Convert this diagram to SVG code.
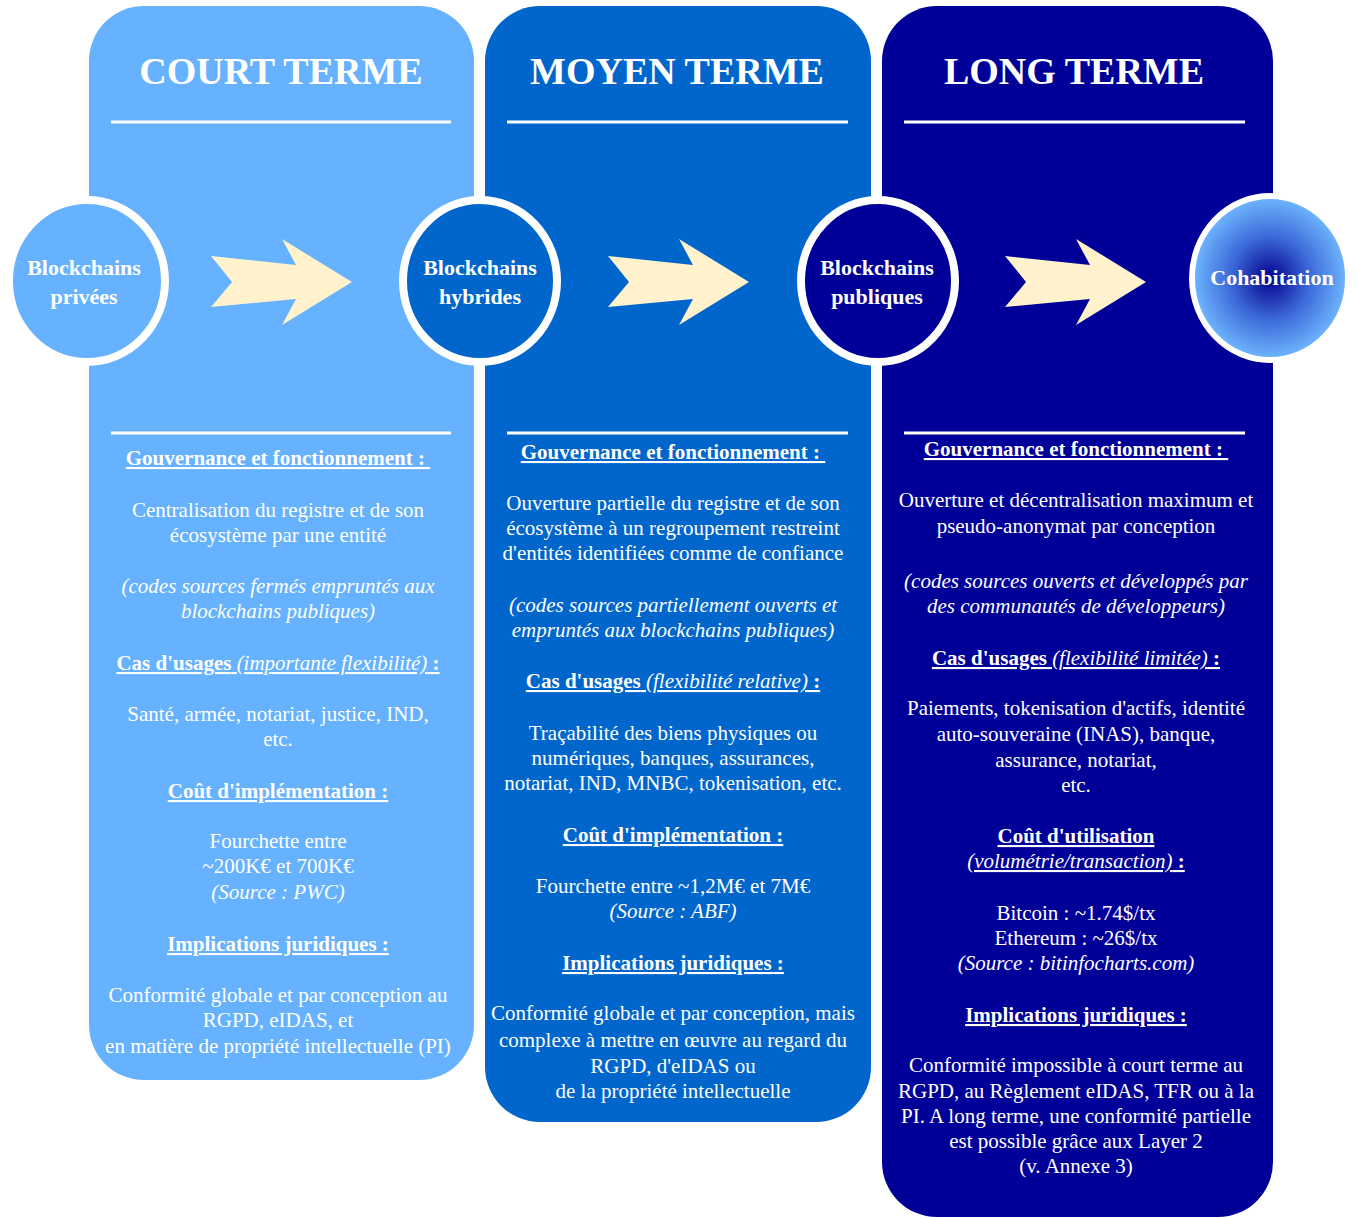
<svg xmlns="http://www.w3.org/2000/svg" width="1358" height="1218" viewBox="0 0 1358 1218">
<defs>
<radialGradient id="cohab" cx="50%" cy="50%" r="50%">
<stop offset="0" stop-color="#000099"/>
<stop offset="0.2" stop-color="#1a2aa8"/>
<stop offset="0.5" stop-color="#3b68d8"/>
<stop offset="1" stop-color="#70b8ff"/>
</radialGradient>
<polygon id="arrowShape" points="211,256 296,265 282,239 352,282 282,325 296,299 211,307 232,282"/>
</defs>
<style>
.t{font-family:"Liberation Serif","Times New Roman",serif;fill:#fff;text-anchor:middle}
.h{font-size:38px;font-weight:bold}
.c{font-size:22px;font-weight:bold}
.b{font-size:21px}
.hd{font-weight:bold;text-decoration:underline}
.u{text-decoration:underline}
.i{font-style:italic}
.bo{font-weight:bold}
.rule{stroke:#fff;stroke-width:3}
.ring{stroke:#fff;stroke-width:8}
.arrow{fill:#FFF2CC}
</style>
<rect width="1358" height="1218" fill="#fff"/>

<g id="col-court">
<rect x="89" y="6" width="385" height="1074" rx="55" ry="55" fill="#66B2FF"/>
<text class="t h" x="281" y="84">COURT TERME</text>
<line class="rule" x1="111" y1="122" x2="451" y2="122"/>
<line class="rule" x1="111" y1="433" x2="451" y2="433"/>
<g class="t b">
<text class="hd" x="278" y="465" xml:space="preserve">Gouvernance et fonctionnement : </text>
<text x="278" y="517">Centralisation du registre et de son</text>
<text x="278" y="542">écosystème par une entité</text>
<text class="i" x="278" y="593">(codes sources fermés empruntés aux</text>
<text class="i" x="278" y="618">blockchains publiques)</text>
<text class="u" x="278" y="670" xml:space="preserve"><tspan class="bo">Cas d'usages</tspan><tspan class="i"> (importante flexibilité)</tspan><tspan class="bo"> :</tspan></text>
<text x="278" y="721">Santé, armée, notariat, justice, IND,</text>
<text x="278" y="746">etc.</text>
<text class="hd" x="278" y="798">Coût d'implémentation :</text>
<text x="278" y="848">Fourchette entre</text>
<text x="278" y="873">~200K€ et 700K€</text>
<text class="i" x="278" y="899">(Source : PWC)</text>
<text class="hd" x="278" y="951">Implications juridiques :</text>
<text x="278" y="1002">Conformité globale et par conception au</text>
<text x="278" y="1027">RGPD, eIDAS, et</text>
<text x="278" y="1053">en matière de propriété intellectuelle (PI)</text>
</g>
</g>

<g id="col-moyen">
<rect x="485" y="6" width="386" height="1116" rx="55" ry="55" fill="#0066CC"/>
<text class="t h" x="677" y="84">MOYEN TERME</text>
<line class="rule" x1="507" y1="122" x2="848" y2="122"/>
<line class="rule" x1="507" y1="433" x2="848" y2="433"/>
<g class="t b">
<text class="hd" x="673" y="459" xml:space="preserve">Gouvernance et fonctionnement : </text>
<text x="673" y="510">Ouverture partielle du registre et de son</text>
<text x="673" y="535">écosystème à un regroupement restreint</text>
<text x="673" y="560">d'entités identifiées comme de confiance</text>
<text class="i" x="673" y="612">(codes sources partiellement ouverts et</text>
<text class="i" x="673" y="637">empruntés aux blockchains publiques)</text>
<text class="u" x="673" y="688" xml:space="preserve"><tspan class="bo">Cas d'usages</tspan><tspan class="i"> (flexibilité relative)</tspan><tspan class="bo"> :</tspan></text>
<text x="673" y="740">Traçabilité des biens physiques ou</text>
<text x="673" y="765">numériques, banques, assurances,</text>
<text x="673" y="790">notariat, IND, MNBC, tokenisation, etc.</text>
<text class="hd" x="673" y="842">Coût d'implémentation :</text>
<text x="673" y="893">Fourchette entre ~1,2M€ et 7M€</text>
<text class="i" x="673" y="918">(Source : ABF)</text>
<text class="hd" x="673" y="970">Implications juridiques :</text>
<text x="673" y="1020">Conformité globale et par conception, mais</text>
<text x="673" y="1047">complexe à mettre en œuvre au regard du</text>
<text x="673" y="1073">RGPD, d'eIDAS ou</text>
<text x="673" y="1098">de la propriété intellectuelle</text>
</g>
</g>

<g id="col-long">
<rect x="882" y="6" width="391" height="1211" rx="55" ry="55" fill="#000099"/>
<text class="t h" x="1074" y="84">LONG TERME</text>
<line class="rule" x1="904" y1="122" x2="1245" y2="122"/>
<line class="rule" x1="904" y1="433" x2="1245" y2="433"/>
<g class="t b">
<text class="hd" x="1076" y="456" xml:space="preserve">Gouvernance et fonctionnement : </text>
<text x="1076" y="507">Ouverture et décentralisation maximum et</text>
<text x="1076" y="533">pseudo-anonymat par conception</text>
<text class="i" x="1076" y="588">(codes sources ouverts et développés par</text>
<text class="i" x="1076" y="613">des communautés de développeurs)</text>
<text class="u" x="1076" y="665" xml:space="preserve"><tspan class="bo">Cas d'usages</tspan><tspan class="i"> (flexibilité limitée)</tspan><tspan class="bo"> :</tspan></text>
<text x="1076" y="715">Paiements, tokenisation d'actifs, identité</text>
<text x="1076" y="741">auto-souveraine (INAS), banque,</text>
<text x="1076" y="767">assurance, notariat,</text>
<text x="1076" y="792">etc.</text>
<text class="hd" x="1076" y="843">Coût d'utilisation</text>
<text class="u" x="1076" y="868" xml:space="preserve"><tspan class="i">(volumétrie/transaction)</tspan><tspan class="bo"> :</tspan></text>
<text x="1076" y="920">Bitcoin : ~1.74$/tx</text>
<text x="1076" y="945">Ethereum : ~26$/tx</text>
<text class="i" x="1076" y="970">(Source : bitinfocharts.com)</text>
<text class="hd" x="1076" y="1022">Implications juridiques :</text>
<text x="1076" y="1072">Conformité impossible à court terme au</text>
<text x="1076" y="1098">RGPD, au Règlement eIDAS, TFR ou à la</text>
<text x="1076" y="1123">PI. A long terme, une conformité partielle</text>
<text x="1076" y="1148">est possible grâce aux Layer 2</text>
<text x="1076" y="1173">(v. Annexe 3)</text>
</g>
</g>

<g id="node-privees">
<ellipse class="ring" cx="87" cy="281" rx="78" ry="81" fill="#66B2FF"/>
<text class="t c" x="84" y="275">Blockchains</text>
<text class="t c" x="84" y="304">privées</text>
</g>
<g id="node-hybrides">
<ellipse class="ring" cx="480" cy="281" rx="77" ry="81" fill="#0066CC"/>
<text class="t c" x="480" y="275">Blockchains</text>
<text class="t c" x="480" y="304">hybrides</text>
</g>
<g id="node-publiques">
<ellipse class="ring" cx="878" cy="281" rx="77" ry="81" fill="#000099"/>
<text class="t c" x="877" y="275">Blockchains</text>
<text class="t c" x="877" y="304">publiques</text>
</g>
<g id="node-cohabitation">
<ellipse cx="1270" cy="278" rx="78" ry="82" fill="url(#cohab)" stroke="#fff" stroke-width="6"/>
<text class="t c" x="1272" y="285">Cohabitation</text>
</g>

<g id="connectors">
<use href="#arrowShape" class="arrow"/>
<use href="#arrowShape" class="arrow" transform="translate(397,0)"/>
<use href="#arrowShape" class="arrow" transform="translate(794,0)"/>
</g>
</svg>
